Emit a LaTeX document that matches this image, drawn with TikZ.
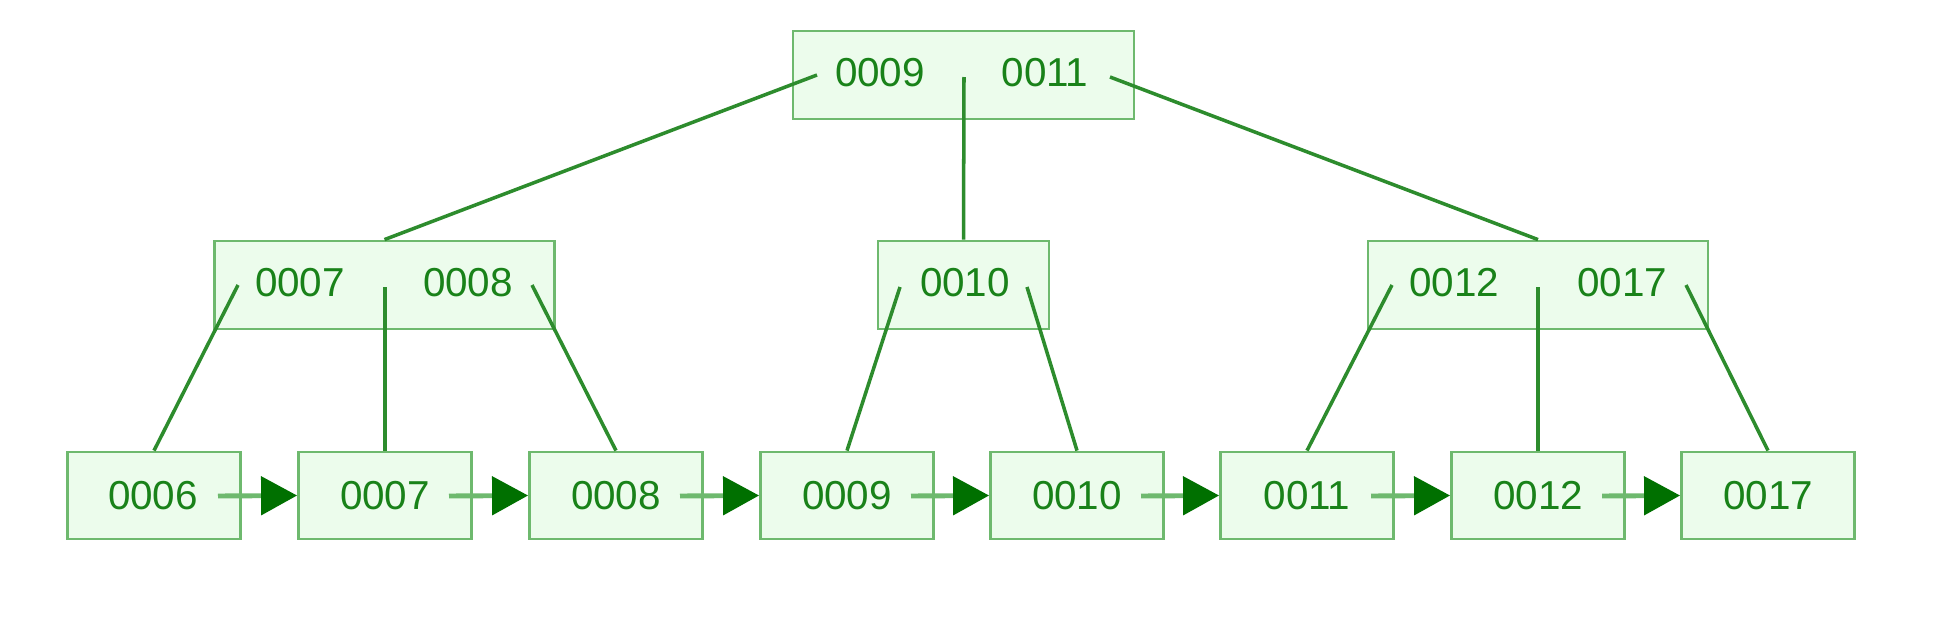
\documentclass[tikz,border=0pt]{standalone}
\usepackage{fontspec}
\setmainfont{Liberation Sans}
\usetikzlibrary{arrows.meta}
\definecolor{TreeFill}{RGB}{236,252,236}
\definecolor{TreeBorder}{RGB}{110,185,110}
\definecolor{TreeEdge}{RGB}{45,140,45}
\definecolor{KeyGreen}{RGB}{25,130,25}
\definecolor{TipGreen}{RGB}{0,112,0}
\tikzset{
  bnode/.style={draw=TreeBorder,fill=TreeFill,line width=0.8pt,inner sep=0pt,minimum height=0.88cm},
  key/.style={text=KeyGreen,font=\fontsize{11.5}{13}\selectfont,inner sep=0pt},
  ptr/.style={draw=TreeEdge,line width=1pt},
}
\tikzset{leaf/.style={bnode,minimum width=1.73cm,minimum height=0.87cm}, nextptr/.style={draw=TreeBorder,line width=1.4pt,-{Triangle[length=0.36cm,width=0.38cm,color=TipGreen]}}}

\begin{document}
\begin{tikzpicture}
\useasboundingbox[fill=white] (0,0) rectangle (19.45,6.40);
% inner nodes
\node[bnode,minimum width=3.41cm] (root) at (9.635,5.65) {};
\node[bnode,minimum width=3.40cm] (in1) at (3.845,3.55) {};
\node[bnode,minimum width=1.71cm] (in2) at (9.635,3.55) {};
\node[bnode,minimum width=3.40cm] (in3) at (15.38,3.55) {};
\node[key] (root-k1) at (8.80,5.67) {0009};
\node[key] (root-k2) at (10.45,5.67) {0011};
\node[key] (in1-k1) at (3.00,3.57) {0007};
\node[key] (in1-k2) at (4.68,3.57) {0008};
\node[key] (in2-k1) at (9.65,3.57) {0010};
\node[key] (in3-k1) at (14.54,3.57) {0012};
\node[key] (in3-k2) at (16.22,3.57) {0017};
% leaves
\node[leaf] (l1) at (1.54,1.445) {};
\node[leaf] (l2) at (3.85,1.445) {};
\node[leaf] (l3) at (6.16,1.445) {};
\node[leaf] (l4) at (8.47,1.445) {};
\node[leaf] (l5) at (10.77,1.445) {};
\node[leaf] (l6) at (13.07,1.445) {};
\node[leaf] (l7) at (15.38,1.445) {};
\node[leaf] (l8) at (17.68,1.445) {};
\node[key] (l1-k) at (1.53,1.44) {0006};
\node[key] (l2-k) at (3.85,1.44) {0007};
\node[key] (l3-k) at (6.16,1.44) {0008};
\node[key] (l4-k) at (8.47,1.44) {0009};
\node[key] (l5-k) at (10.77,1.44) {0010};
\node[key] (l6-k) at (13.07,1.44) {0011};
\node[key] (l7-k) at (15.38,1.44) {0012};
\node[key] (l8-k) at (17.68,1.44) {0017};
% child pointers
\coordinate (root-p0) at (8.17,5.65);
\coordinate (root-p1) at (9.64,5.63);
\coordinate (root-p2) at (11.10,5.63);
\coordinate (in1-p0) at (2.38,3.55);
\coordinate (in1-p1) at (3.85,3.53);
\coordinate (in1-p2) at (5.32,3.55);
\coordinate (in2-p0) at (9.00,3.53);
\coordinate (in2-p1) at (10.27,3.53);
\coordinate (in3-p0) at (13.92,3.55);
\coordinate (in3-p1) at (15.38,3.53);
\coordinate (in3-p2) at (16.86,3.55);
\draw[ptr] (root-p0)--(in1.north);
\draw[ptr] (root-p1)--(in2.north);
\draw[ptr] (root-p2)--(in3.north);
\draw[ptr] (in1-p0)--(l1.north);
\draw[ptr] (in1-p1)--(l2.north);
\draw[ptr] (in1-p2)--(l3.north);
\draw[ptr] (in2-p0)--(l4.north);
\draw[ptr] (in2-p1)--(l5.north);
\draw[ptr] (in3-p0)--(l6.north);
\draw[ptr] (in3-p1)--(l7.north);
\draw[ptr] (in3-p2)--(l8.north);
% leaf chain
\coordinate (l1-out) at (2.18,1.44);
\coordinate (l2-out) at (4.49,1.44);
\coordinate (l3-out) at (6.80,1.44);
\coordinate (l4-out) at (9.11,1.44);
\coordinate (l5-out) at (11.41,1.44);
\coordinate (l6-out) at (13.71,1.44);
\coordinate (l7-out) at (16.02,1.44);
\draw[nextptr] (l1-out)--(l2.west);
\draw[nextptr] (l2-out)--(l3.west);
\draw[nextptr] (l3-out)--(l4.west);
\draw[nextptr] (l4-out)--(l5.west);
\draw[nextptr] (l5-out)--(l6.west);
\draw[nextptr] (l6-out)--(l7.west);
\draw[nextptr] (l7-out)--(l8.west);
\end{tikzpicture}
\end{document}
